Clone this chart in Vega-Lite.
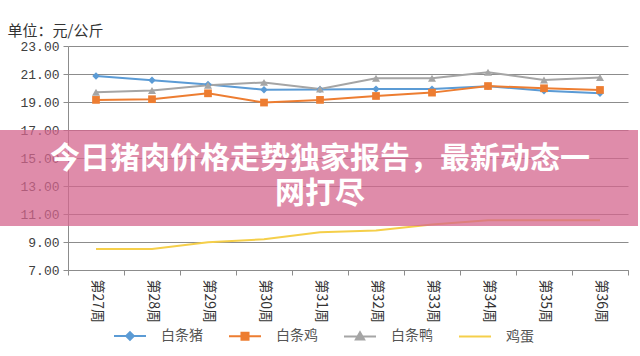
{
  "$schema": "https://vega.github.io/schema/vega-lite/v6.json",
  "width": 560,
  "height": 224,
  "autosize": {"type": "none"},
  "padding": {"left": 68, "top": 46, "right": 12, "bottom": 86},
  "background": "#ffffff",
  "config": {"view": {"stroke": null}, "axis": {"labelOverlap": false}, "axisY": {"labelOverlap": false}},
  "datasets": {
    "prices": [
      {"week": "第27周", "series": "白条猪", "price": 20.86},
      {"week": "第28周", "series": "白条猪", "price": 20.55},
      {"week": "第29周", "series": "白条猪", "price": 20.25},
      {"week": "第30周", "series": "白条猪", "price": 19.87},
      {"week": "第31周", "series": "白条猪", "price": 19.9},
      {"week": "第32周", "series": "白条猪", "price": 19.92},
      {"week": "第33周", "series": "白条猪", "price": 19.92},
      {"week": "第34周", "series": "白条猪", "price": 20.13},
      {"week": "第35周", "series": "白条猪", "price": 19.8},
      {"week": "第36周", "series": "白条猪", "price": 19.63},
      {"week": "第27周", "series": "白条鸡", "price": 19.15},
      {"week": "第28周", "series": "白条鸡", "price": 19.2},
      {"week": "第29周", "series": "白条鸡", "price": 19.62},
      {"week": "第30周", "series": "白条鸡", "price": 18.96},
      {"week": "第31周", "series": "白条鸡", "price": 19.15},
      {"week": "第32周", "series": "白条鸡", "price": 19.43},
      {"week": "第33周", "series": "白条鸡", "price": 19.67},
      {"week": "第34周", "series": "白条鸡", "price": 20.14},
      {"week": "第35周", "series": "白条鸡", "price": 19.98},
      {"week": "第36周", "series": "白条鸡", "price": 19.86},
      {"week": "第27周", "series": "白条鸭", "price": 19.7},
      {"week": "第28周", "series": "白条鸭", "price": 19.82},
      {"week": "第29周", "series": "白条鸭", "price": 20.2},
      {"week": "第30周", "series": "白条鸭", "price": 20.4},
      {"week": "第31周", "series": "白条鸭", "price": 19.93},
      {"week": "第32周", "series": "白条鸭", "price": 20.7},
      {"week": "第33周", "series": "白条鸭", "price": 20.7},
      {"week": "第34周", "series": "白条鸭", "price": 21.12},
      {"week": "第35周", "series": "白条鸭", "price": 20.57},
      {"week": "第36周", "series": "白条鸭", "price": 20.75},
      {"week": "第27周", "series": "鸡蛋", "price": 8.5},
      {"week": "第28周", "series": "鸡蛋", "price": 8.5},
      {"week": "第29周", "series": "鸡蛋", "price": 8.98},
      {"week": "第30周", "series": "鸡蛋", "price": 9.19},
      {"week": "第31周", "series": "鸡蛋", "price": 9.7},
      {"week": "第32周", "series": "鸡蛋", "price": 9.82},
      {"week": "第33周", "series": "鸡蛋", "price": 10.25},
      {"week": "第34周", "series": "鸡蛋", "price": 10.55},
      {"week": "第35周", "series": "鸡蛋", "price": 10.55},
      {"week": "第36周", "series": "鸡蛋", "price": 10.55}
    ],
    "banner": [{"top": 17.0, "bottom": 10.14}],
    "headline": [
      {"line": "今日猪肉价格走势独家报告，最新动态一", "pos": 14.93, "anchor": "第31周"},
      {"line": "网打尽", "pos": 12.4, "anchor": "第31周"}
    ]
  },
  "layer": [
    {
      "data": {"name": "prices"},
      "mark": {"type": "line", "strokeWidth": 2},
      "encoding": {
        "x": {
          "field": "week", "type": "nominal", "sort": null,
          "scale": {"type": "band", "paddingInner": 0, "paddingOuter": 0},
          "axis": {
            "title": null, "labelAngle": 90, "tickBand": "extent", "zindex": 0,
            "domainColor": "#8c8c8c", "tickColor": "#8c8c8c", "tickSize": 5,
            "labelFont": "Noto Sans CJK SC", "labelFontSize": 14, "labelColor": "#333333",
            "labelPadding": 4
          }
        },
        "y": {
          "field": "price", "type": "quantitative",
          "scale": {"domain": [7, 23], "nice": false, "zero": false},
          "axis": {
            "values": [7, 9, 11, 13, 15, 17, 19, 21, 23], "tickCount": 9, "format": ".2f", "labelOverlap": false, "zindex": 0,
            "title": "单位：元/公斤", "titleAngle": 0, "titleAlign": "left", "titleBaseline": "middle",
            "titleX": -61, "titleY": -16, "titleFont": "Noto Sans CJK SC", "titleFontSize": 15,
            "titleFontWeight": "normal", "titleColor": "#333333",
            "labelFont": "Liberation Mono", "labelFontSize": 13, "labelColor": "#404040",
            "labelPadding": 4, "tickSize": 5,
            "domainColor": "#8c8c8c", "tickColor": "#8c8c8c",
            "grid": true, "gridColor": "#8c8c8c", "gridWidth": 1
          }
        },
        "color": {
          "field": "series", "type": "nominal",
          "scale": {"domain": ["白条猪", "白条鸡", "白条鸭", "鸡蛋"], "range": ["#5b9bd5", "#ed7d31", "#a5a5a5", "#f5cf4a"]},
          "legend": {
            "orient": "none", "legendX": 45, "legendY": 273, "direction": "horizontal", "title": null,
            "symbolSize": 1024, "symbolStrokeWidth": 2,
            "labelFont": "Noto Sans CJK SC", "labelFontSize": 14, "labelColor": "#555555",
            "labelOffset": 14, "columnPadding": 22,
            "encode": {
              "symbols": {
                "update": {
                  "shape": {"signal": "datum.value === '白条猪' ? 'M-1,0H1M0,-0.24L0.24,0L0,0.24L-0.24,0Z' : datum.value === '白条鸡' ? 'M-1,0H1M-0.22,-0.22H0.22V0.22H-0.22Z' : datum.value === '白条鸭' ? 'M-1,0H1M0,-0.26L0.26,0.2H-0.26Z' : 'M-1,0H1'"},
                  "fill": {"signal": "scale('color', datum.value)"},
                  "stroke": {"signal": "scale('color', datum.value)"},
                  "opacity": {"value": 1}
                }
              }
            }
          }
        }
      }
    },
    {
      "data": {"name": "prices"},
      "transform": [{"filter": "datum.series !== '鸡蛋'"}],
      "mark": {"type": "point", "filled": true, "opacity": 1},
      "encoding": {
        "x": {"field": "week", "type": "nominal", "sort": null},
        "y": {"field": "price", "type": "quantitative"},
        "color": {"field": "series", "type": "nominal"},
        "shape": {
          "field": "series", "type": "nominal",
          "scale": {"domain": ["白条猪", "白条鸡", "白条鸭"], "range": ["diamond", "square", "triangle-up"]},
          "legend": null
        },
        "size": {
          "field": "series", "type": "nominal",
          "scale": {"domain": ["白条猪", "白条鸡", "白条鸭"], "range": [55, 64, 60]},
          "legend": null
        }
      }
    },
    {
      "data": {"name": "banner"},
      "mark": {"type": "rect", "fill": "#d4668e", "opacity": 0.75},
      "encoding": {
        "x": {"value": -68},
        "x2": {"value": 570},
        "y": {"field": "top", "type": "quantitative"},
        "y2": {"field": "bottom"}
      }
    },
    {
      "data": {"name": "headline"},
      "mark": {"type": "text", "font": "Noto Sans CJK SC", "fontSize": 30, "fontWeight": "bold", "color": "#ffffff", "align": "center", "baseline": "middle"},
      "encoding": {
        "x": {"field": "anchor", "type": "nominal"},
        "y": {"field": "pos", "type": "quantitative"},
        "text": {"field": "line"}
      }
    }
  ]
}
